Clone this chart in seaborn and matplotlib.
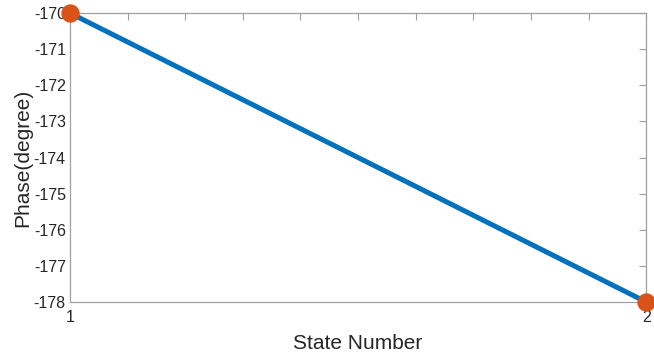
import matplotlib
matplotlib.use("Agg")
import matplotlib.pyplot as plt
import seaborn as sns
import pandas as pd
import numpy as np

state = [1, 2]
phase = [-170, -178]
x_labels = ["1", "2"]

sns.set_style("white")
plt.rcParams['font.family'] = ['Liberation Sans', 'DejaVu Sans']
plt.rcParams['axes.unicode_minus'] = False

df = pd.DataFrame({"State Number": state, "Phase(degree)": phase})

fig = plt.figure(figsize=(6.54, 3.54), dpi=100)
ax = fig.add_axes([0.107, 0.147, 0.881, 0.816])

sns.lineplot(data=df, x="State Number", y="Phase(degree)", ax=ax,
             color="#0072BD", linewidth=3.6, zorder=2)
sns.scatterplot(data=df, x="State Number", y="Phase(degree)", ax=ax,
                color="#D95319", s=150, edgecolor="#D95319", zorder=3, clip_on=False)

ax.set_xlim(1, 2)
ax.set_ylim(-178, -170)
ax.set_xticks(np.arange(1, 2.01, 0.1))
ax.set_xticklabels([x_labels[0]] + [""] * 9 + [x_labels[1]])
ax.set_yticks(np.arange(-178, -169, 1))
ax.tick_params(axis="both", direction="in", length=5, width=0.8, color="#a0a0a0",
               labelsize=11.5, top=True, right=True, labelcolor="#262626", pad=3)
ax.tick_params(axis="x", pad=6)
for s in ax.spines.values():
    s.set_color("#a0a0a0")
    s.set_linewidth(0.9)
ax.set_xlabel("State Number", fontsize=15, color="#262626", labelpad=6)
ax.set_ylabel("Phase(degree)", fontsize=15, color="#262626", labelpad=1)

fig.savefig("out.png", dpi=100)
